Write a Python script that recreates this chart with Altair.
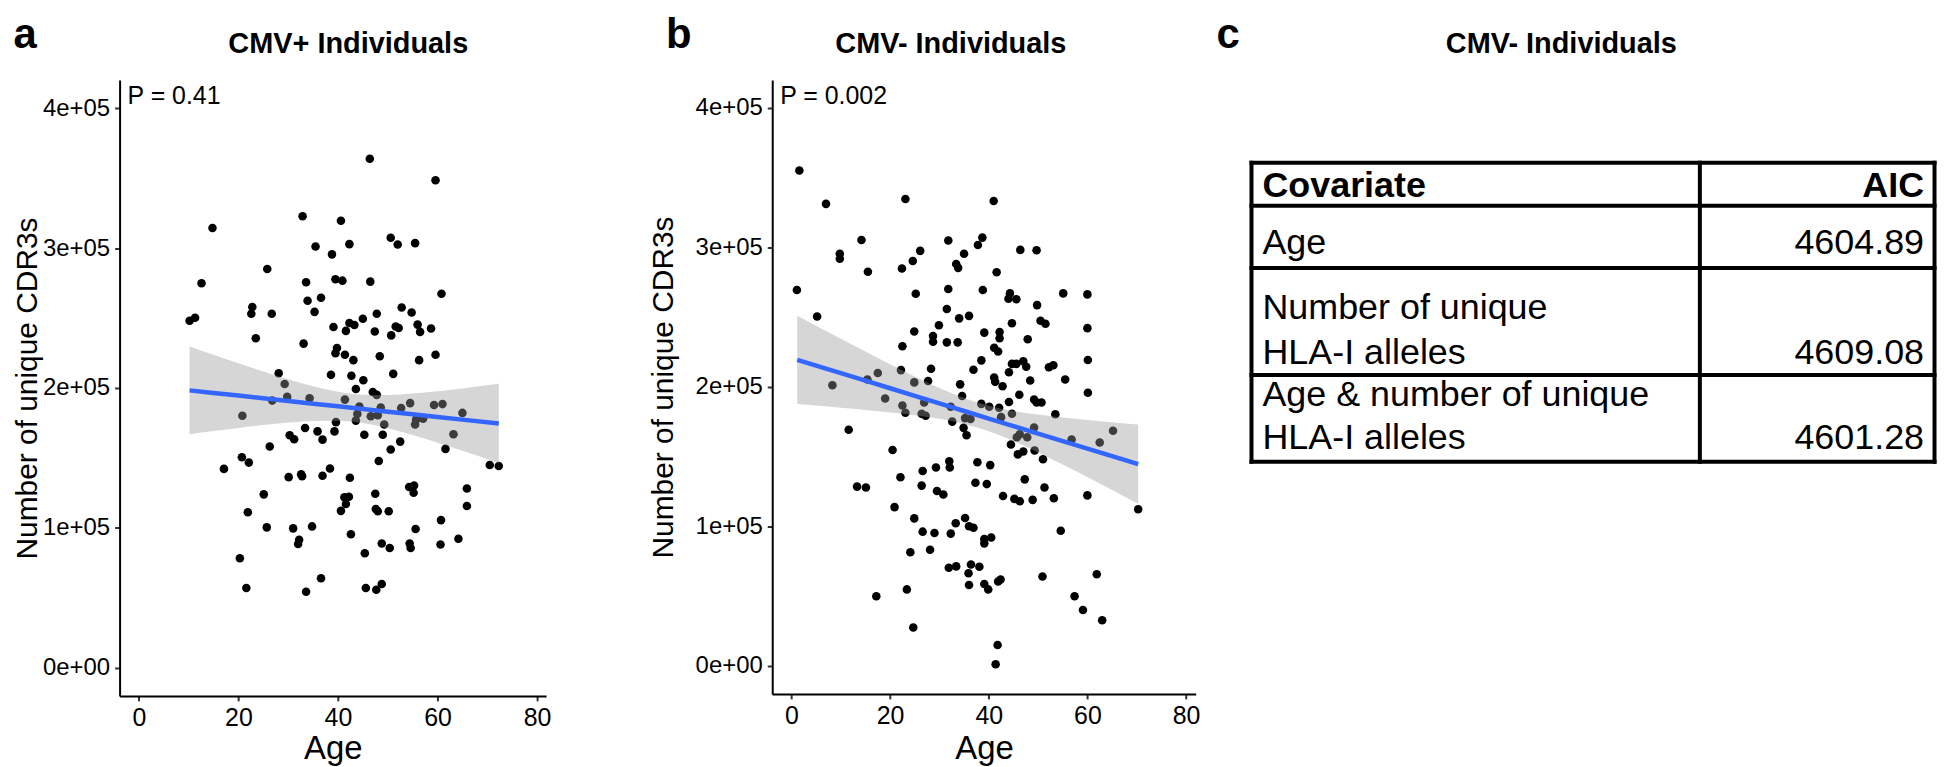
import altair as alt
import pandas as pd

FONT = "Liberation Sans"

# ---------------- data ----------------
# Panel a: CMV+ individuals. Age (years) and number of unique CDR3s (thousands)
a_age = [46.4, 59.6, 32.9, 40.6, 14.8, 50.6, 52.0, 55.5, 42.3, 35.5,
         38.8, 25.8, 12.6, 33.6, 39.5, 40.9, 46.5, 33.9, 36.6, 60.8,
         22.8, 22.6, 26.7, 35.3, 47.8, 52.8, 54.8, 10.2, 11.3, 39.1,
         41.6, 42.3, 43.3, 45.0, 47.4, 50.7, 51.6, 52.2, 56.0, 56.5,
         58.7, 23.5, 33.1, 39.8, 39.5, 41.4, 43.1, 48.4, 56.3, 59.6,
         28.1, 38.6, 42.7, 51.1, 29.3, 45.1, 43.6, 47.0, 47.8, 29.8,
         34.3, 26.8, 41.4, 54.5, 59.3, 61.0, 44.3, 48.6, 52.7, 65.0,
         20.8, 43.9, 46.6, 48.0, 55.7, 57.1, 39.6, 43.6, 55.5, 49.3,
         33.4, 35.9, 39.3, 63.2, 30.3, 31.2, 45.3, 49.0, 36.9, 52.5,
         26.3, 50.6, 61.6, 20.7, 22.1, 48.2, 70.5, 72.3, 17.1, 38.4,
         30.1, 32.6, 32.8, 36.9, 42.4, 54.3, 55.3, 55.2, 65.9, 25.1,
         47.5, 41.3, 42.2, 41.6, 40.6, 47.6, 48.0, 50.2, 65.9, 21.9,
         60.7, 25.7, 31.0, 34.8, 55.6, 42.6, 32.2, 32.0, 48.8, 54.4,
         54.6, 50.4, 60.6, 64.2, 45.4, 20.3, 36.6, 48.8, 21.6, 45.6,
         47.7, 33.6]
a_cdr3_k = [363.8, 348.5, 322.7, 319.5, 314.3, 307.3, 302.5, 303.5, 302.8, 301.1,
            295.5, 285.0, 274.9, 275.6, 277.7, 276.7, 276.0, 262.4, 264.5, 267.3,
            257.9, 253.0, 253.0, 254.4, 253.0, 257.5, 254.0, 248.1, 250.2, 243.6,
            240.8, 246.4, 245.0, 249.5, 240.4, 237.6, 243.9, 242.9, 245.3, 240.1,
            242.5, 235.6, 231.7, 228.6, 224.8, 223.7, 219.9, 222.7, 219.9, 223.7,
            210.5, 209.4, 208.7, 210.1, 202.8, 205.6, 199.3, 197.2, 195.1, 193.7,
            192.7, 191.0, 191.7, 189.2, 187.8, 188.5, 186.8, 186.1, 185.7, 182.2,
            180.2, 181.5, 179.8, 180.5, 177.4, 178.1, 175.6, 176.7, 173.9, 173.9,
            171.4, 169.0, 169.0, 166.9, 166.2, 163.4, 166.6, 166.6, 163.1, 161.7,
            158.2, 156.1, 156.5, 150.5, 146.7, 147.8, 145.0, 144.3, 142.2, 142.5,
            136.3, 138.3, 136.9, 137.3, 135.9, 129.3, 130.3, 125.1, 128.2, 124.0,
            124.4, 121.9, 122.3, 117.1, 112.2, 113.6, 111.9, 111.9, 115.7, 111.2,
            105.6, 100.4, 99.7, 101.1, 99.3, 95.5, 91.6, 88.5, 88.9, 88.9,
            85.7, 85.7, 88.2, 92.3, 81.9, 78.4, 64.1, 59.9, 57.1, 57.1,
            55.8, 54.4]

# Panel a: linear fit with 95% band (thousands)
a_fit_age = [10.2, 15, 20, 25, 30, 35, 40, 45, 50, 55, 60, 65, 72.3]
a_fit_k = [198.3, 196.5, 194.6, 192.7, 190.7, 188.8, 186.9, 185.0, 183.1, 181.2, 179.3, 177.4, 174.6]
a_lo_k = [167.0, 169.2, 171.5, 173.5, 175.3, 176.5, 176.6, 174.9, 171.3, 166.4, 160.9, 155.1, 146.3]
a_hi_k = [229.6, 223.7, 217.7, 211.8, 206.2, 201.2, 197.3, 195.2, 195.0, 196.0, 197.7, 199.7, 203.0]

# Panel b: CMV- individuals
b_age = [1.6, 23.1, 41.0, 7.0, 14.2, 31.8, 38.7, 37.8, 46.4, 49.7,
         26.1, 35.0, 9.8, 9.8, 24.6, 33.4, 33.8, 22.4, 15.5, 41.6,
         1.1, 31.8, 38.8, 25.2, 44.3, 44.0, 45.6, 55.1, 60.0, 49.8,
         31.5, 5.2, 34.0, 36.0, 44.7, 50.5, 51.5, 29.9, 60.0, 24.9,
         39.1, 42.2, 28.7, 42.2, 47.9, 28.7, 31.5, 33.7, 22.5, 41.1,
         41.9, 38.5, 60.1, 44.7, 45.6, 47.0, 47.6, 52.2, 53.1, 36.9,
         22.2, 28.3, 44.1, 17.5, 15.4, 41.1, 41.3, 27.7, 24.9, 48.4,
         55.5, 34.2, 8.3, 42.8, 60.1, 46.2, 34.6, 19.0, 49.2, 49.7,
         50.7, 44.1, 26.9, 38.5, 22.5, 40.1, 32.3, 42.1, 44.7, 53.5,
         23.1, 26.4, 27.2, 42.5, 36.3, 35.2, 32.6, 49.2, 34.9, 11.6,
         65.2, 46.3, 47.8, 35.5, 56.8, 45.7, 62.5, 44.5, 49.3, 47.0,
         45.9, 20.5, 51.0, 37.7, 32.0, 32.1, 40.3, 29.3, 26.6, 22.1,
         47.3, 37.3, 39.6, 26.4, 13.3, 15.1, 51.3, 29.5, 30.8, 42.9,
         60.0, 45.2, 46.3, 48.9, 53.2, 70.3, 20.9, 35.2, 24.9, 33.3,
         36.0, 36.9, 54.6, 26.6, 29.0, 32.3, 40.5, 39.1, 39.1, 24.1,
         28.1, 31.9, 33.4, 36.4, 38.1, 35.9, 61.9, 50.9, 42.4, 41.9,
         36.0, 39.1, 39.9, 23.4, 17.2, 57.4, 59.1, 63.0, 24.7, 41.8,
         41.4]
b_cdr3_k = [355.2, 334.8, 333.4, 331.3, 305.4, 305.0, 307.1, 301.8, 298.3, 298.0,
            297.6, 295.5, 295.5, 292.0, 290.3, 288.2, 285.4, 285.0, 282.6, 282.2,
            269.6, 270.3, 269.6, 266.8, 267.1, 263.3, 262.9, 267.1, 266.4, 258.7,
            255.9, 250.6, 249.2, 251.0, 245.7, 247.5, 245.4, 244.3, 242.2, 239.8,
            239.0, 239.4, 236.6, 234.9, 234.2, 232.4, 232.0, 232.0, 229.2, 228.2,
            225.4, 219.1, 219.4, 216.6, 216.6, 218.4, 214.5, 214.2, 215.6, 212.4,
            212.1, 213.1, 210.6, 210.0, 205.4, 206.8, 203.7, 204.3, 203.3, 204.7,
            205.4, 201.9, 201.2, 200.5, 195.9, 194.5, 193.5, 191.7, 191.0, 188.9,
            188.9, 189.3, 188.9, 187.9, 186.8, 185.8, 185.8, 185.1, 180.8, 180.5,
            181.5, 180.8, 179.4, 178.4, 177.0, 177.7, 175.2, 171.0, 170.7, 169.3,
            168.6, 166.1, 164.0, 165.4, 162.3, 164.0, 160.2, 158.8, 154.5, 153.8,
            151.7, 154.9, 148.2, 146.1, 146.8, 142.3, 144.0, 142.3, 139.8, 135.3,
            133.8, 131.4, 130.4, 129.3, 128.6, 127.9, 127.9, 125.4, 123.0, 121.9,
            122.3, 119.8, 118.1, 119.1, 120.2, 112.4, 113.9, 106.1, 105.8, 102.3,
            100.2, 99.1, 97.0, 96.3, 95.3, 94.9, 92.1, 91.1, 87.9, 81.6,
            83.3, 70.4, 71.4, 72.8, 71.1, 66.5, 65.8, 64.1, 62.0, 60.6,
            58.1, 58.8, 54.9, 54.9, 50.0, 50.0, 40.2, 32.8, 27.6, 15.0,
            1.3]

b_fit_age = [1.17, 5, 10, 15, 20, 25, 30, 35, 40, 45, 50, 55, 60, 65, 70.3]
b_fit_k = [219.4, 215.3, 209.9, 204.5, 199.1, 193.7, 188.3, 182.8, 177.4, 172.0, 166.6, 161.2, 155.8, 150.4, 144.7]
b_lo_k = [187.8, 186.7, 185.2, 183.6, 181.8, 179.8, 177.2, 173.5, 168.3, 161.3, 153.1, 144.4, 135.4, 126.2, 116.3]
b_hi_k = [251.0, 243.9, 234.6, 225.4, 216.3, 207.6, 199.3, 192.1, 186.6, 182.8, 180.2, 178.1, 176.3, 174.7, 173.1]

a_title, b_title, c_title = "CMV+ Individuals", "CMV- Individuals", "CMV- Individuals"
a_p, b_p = "P = 0.41", "P = 0.002"
panel_letters = ["a", "b", "c"]

x_tick_values = [0, 20, 40, 60, 80]
y_tick_values = [0, 100000, 200000, 300000, 400000]
y_tick_labels = ["0e+00", "1e+05", "2e+05", "3e+05", "4e+05"]

# Panel c: AIC table
table_header = ["Covariate", "AIC"]
table_covariate_lines = [["Age"],
                         ["Number of unique", "HLA-I alleles"],
                         ["Age & number of unique", "HLA-I alleles"]]
table_aic = ["4604.89", "4609.08", "4601.28"]

# ---------------- layout (page pixels) ----------------
TOP = 78
A_LEFT, A_W, A_H = 119, 428, 618
B_LEFT, B_W, B_H = 774, 425, 616
SPACING = B_LEFT - (A_LEFT + A_W)
C_LEFT = B_LEFT + B_W + SPACING
C_W, C_H = 516, 383
TABLE_COLS = [1255, 1705, 1940.5]
TABLE_ROWS = [161, 204, 266.5, 374, 461]
HEADER_BASE = 195
ROW_BASES = [[253], [318, 363], [405, 448]]
TEXT_LEFT, TEXT_RIGHT = 1266, 1930
LETTER_BASE, LETTER_SIZE = 46, 42
Y_EXTENT = 77

label_expr = " : ".join(f"datum.value == {v} ? '{l}'" for v, l in zip(y_tick_values, y_tick_labels)) + " : ''"

one = pd.DataFrame({"k": [0]})


def y_axis(title_pad):
    return alt.Axis(values=y_tick_values, labelExpr=label_expr, title="Number of unique CDR3s",
                    titleFont=FONT, titleFontSize=30, titleFontWeight="normal", titleColor="black",
                    titlePadding=title_pad, titleBaseline="alphabetic",
                    labelFont=FONT, labelFontSize=24, labelColor="black", labelPadding=5, labelFlush=False,
                    tickSize=5, tickWidth=2, tickColor="#333333", domainColor="black", domainWidth=2,
                    grid=False, minExtent=Y_EXTENT, maxExtent=Y_EXTENT)


def x_axis(title_pad):
    return alt.Axis(values=x_tick_values, title="Age", format="d",
                    titleFont=FONT, titleFontSize=33, titleFontWeight="normal", titleColor="black",
                    titlePadding=title_pad, titleBaseline="alphabetic",
                    labelFont=FONT, labelFontSize=25, labelColor="black", labelPadding=5, labelFlush=False,
                    tickSize=5, tickWidth=2, tickColor="#333333", domainColor="black", domainWidth=2,
                    grid=False, minExtent=35, maxExtent=35)


def text_at(txt, x, y, size, bold=False, align="left"):
    return alt.Chart(one).mark_text(font=FONT, fontSize=size, fontWeight="bold" if bold else "normal",
                                    align=align, baseline="alphabetic", color="black").encode(
        x=alt.value(x), y=alt.value(y), text=alt.value(txt))


def panel(ages, vals_k, fit_age, fit_k, lo_k, hi_k, xdom, left, w, h, title, title_cx, letter, ptxt,
          ytp, xtp, anchor=False):
    pts = pd.DataFrame({"age": ages, "cdr3": [v * 1000 for v in vals_k]})
    fit = pd.DataFrame({"age": fit_age, "fit": [v * 1000 for v in fit_k],
                        "lo": [v * 1000 for v in lo_k], "hi": [v * 1000 for v in hi_k]})
    xs = alt.Scale(domain=xdom, nice=False, zero=False)
    ys = alt.Scale(domain=[-20000, 420000], nice=False, zero=False)
    X = lambda f: alt.X(f, type="quantitative", scale=xs, axis=x_axis(xtp))
    Y = lambda f: alt.Y(f, type="quantitative", scale=ys, axis=y_axis(ytp))
    layers = [
        alt.Chart(pts).mark_circle(size=74, color="black", opacity=1).encode(x=X("age"), y=Y("cdr3")),
        alt.Chart(fit).mark_area(color="#999999", opacity=0.4, interpolate="monotone").encode(
            x=X("age"), y=Y("lo"), y2="hi"),
        alt.Chart(fit).mark_line(color="#3366FF", strokeWidth=4.5).encode(x=X("age"), y=Y("fit")),
        text_at(ptxt, 8, 24, 25),
        text_at(title, title_cx - left, 51 - TOP, 29, bold=True, align="center"),
        text_at(letter, -106.5, LETTER_BASE - TOP, LETTER_SIZE, bold=True),
    ]
    if anchor:
        layers.append(alt.Chart(one).mark_point(opacity=0, size=1).encode(
            x=alt.value(-2 - left), y=alt.value(-10 - TOP)))
    return alt.layer(*layers).properties(width=w, height=h)


# y-title baselines (page x): panel a keeps its title fully inside the page, panel b as in the figure
A_TITLE_BASE, B_TITLE_BASE = 36, 674
pa = panel(a_age, a_cdr3_k, a_fit_age, a_fit_k, a_lo_k, a_hi_k, [-3.86, 81.8], A_LEFT, A_W, A_H,
           a_title, 348.5, panel_letters[0], a_p, ytp=A_LEFT - A_TITLE_BASE - Y_EXTENT, xtp=28, anchor=True)
pb = panel(b_age, b_cdr3_k, b_fit_age, b_fit_k, b_lo_k, b_hi_k, [-3.9, 81.96], B_LEFT, B_W, B_H,
           b_title, 953.3, panel_letters[1], b_p, ytp=B_LEFT - B_TITLE_BASE - Y_EXTENT, xtp=30)

# ---- table ----
rule_rows = []
for yv in TABLE_ROWS:
    rule_rows.append({"x": TABLE_COLS[0] - C_LEFT, "x2": TABLE_COLS[-1] - C_LEFT, "y": yv - TOP, "y2": yv - TOP})
for xv in TABLE_COLS:
    rule_rows.append({"x": xv - C_LEFT, "x2": xv - C_LEFT, "y": TABLE_ROWS[0] - TOP, "y2": TABLE_ROWS[-1] - TOP})
rules_df = pd.DataFrame(rule_rows)

cov_rows, aic_rows = [], []
for lines, bases, aic in zip(table_covariate_lines, ROW_BASES, table_aic):
    for ln, b in zip(lines, bases):
        cov_rows.append({"t": ln, "x": TEXT_LEFT - C_LEFT, "y": b - TOP})
    aic_rows.append({"t": aic, "x": TEXT_RIGHT - C_LEFT, "y": bases[-1] - TOP})
hdr_df = pd.DataFrame([{"t": table_header[0], "x": TEXT_LEFT - C_LEFT, "y": HEADER_BASE - TOP, "a": "left"},
                       {"t": table_header[1], "x": TEXT_RIGHT - C_LEFT, "y": HEADER_BASE - TOP, "a": "right"}])

PX = lambda f: alt.X(f, type="quantitative", scale=None, axis=None)
PY = lambda f: alt.Y(f, type="quantitative", scale=None, axis=None)

t_rules = alt.Chart(rules_df).mark_rule(color="black", strokeWidth=4, strokeCap="square").encode(
    x=PX("x"), x2="x2", y=PY("y"), y2="y2")
t_hdr_l = alt.Chart(hdr_df[hdr_df.a == "left"]).mark_text(font=FONT, fontSize=36, fontWeight="bold", align="left",
                                                           baseline="alphabetic", color="black").encode(
    x=PX("x"), y=PY("y"), text="t:N")
t_hdr_r = alt.Chart(hdr_df[hdr_df.a == "right"]).mark_text(font=FONT, fontSize=36, fontWeight="bold", align="right",
                                                            baseline="alphabetic", color="black").encode(
    x=PX("x"), y=PY("y"), text="t:N")
t_cov = alt.Chart(pd.DataFrame(cov_rows)).mark_text(font=FONT, fontSize=36, align="left",
                                                     baseline="alphabetic", color="black").encode(
    x=PX("x"), y=PY("y"), text="t:N")
t_aic = alt.Chart(pd.DataFrame(aic_rows)).mark_text(font=FONT, fontSize=36, align="right",
                                                     baseline="alphabetic", color="black").encode(
    x=PX("x"), y=PY("y"), text="t:N")

pc = alt.layer(
    t_rules, t_hdr_l, t_hdr_r, t_cov, t_aic,
    text_at(c_title, 1566 - C_LEFT, 51 - TOP, 29, bold=True, align="center"),
    text_at(panel_letters[2], 1220 - C_LEFT, LETTER_BASE - TOP, LETTER_SIZE, bold=True),
).properties(width=C_W, height=C_H)

chart = alt.hconcat(pa, pb, pc, spacing=SPACING, bounds="flush").properties(
    padding={"left": -10, "top": -18, "right": 0, "bottom": 0},
    background="white",
).configure(font=FONT).configure_view(strokeWidth=0, stroke=None)

chart.save("out.html", embed_options={"renderer": "svg", "actions": False})
